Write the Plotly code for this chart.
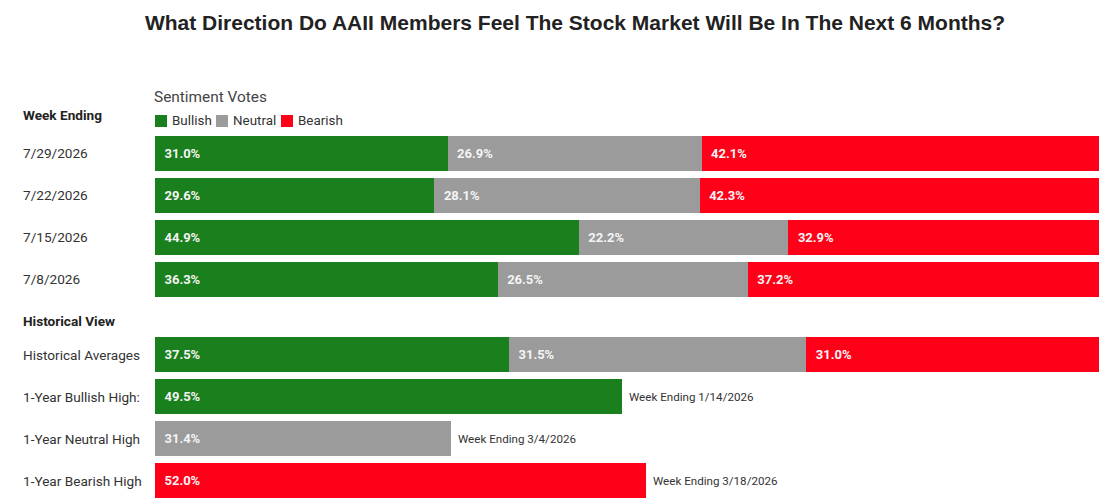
import plotly.graph_objects as go
from plotly.subplots import make_subplots

# weekly sentiment survey (percent of votes)
weeks = ["7/29/2026", "7/22/2026", "7/15/2026", "7/8/2026"]
bullish = [31.0, 29.6, 44.9, 36.3]
neutral = [26.9, 28.1, 22.2, 26.5]
bearish = [42.1, 42.3, 32.9, 37.2]

# historical view
hist_rows = ["Historical Averages", "1-Year Bullish High:", "1-Year Neutral High", "1-Year Bearish High"]
hist_bullish = [37.5, 49.5, None, None]
hist_neutral = [31.5, None, 31.4, None]
hist_bearish = [31.0, None, None, 52.0]
high_weeks = [None, "1/14/2026", "3/4/2026", "3/18/2026"]

series = ["Bullish", "Neutral", "Bearish"]
colors = {"Bullish": "#1a7f1d", "Neutral": "#9b9b9b", "Bearish": "#ff0019"}

# the page body has an 8px margin, so the figure is sized to end at the window edge
OFF = 8
W, H = 1119 - OFF, 504 - OFF
FONT = "Roboto"


def px_x(p):
    return (p - OFF) / W


def px_y(p):
    return 1 - (p - OFF) / H


fig = make_subplots(rows=2, cols=1)

top = dict(zip(series, [bullish, neutral, bearish]))
bottom = dict(zip(series, [hist_bullish, hist_neutral, hist_bearish]))

for name in series:
    for row, cats, vals in [(1, weeks, top[name]), (2, hist_rows, bottom[name])]:
        fig.add_trace(
            go.Bar(
                y=cats, x=vals, orientation="h", name=name,
                marker=dict(color=colors[name], line=dict(width=0)),
                texttemplate="\u00a0\u00a0%{x:.1f}%",
                textposition="inside", insidetextanchor="start",
                textfont=dict(family=FONT, size=13, color="#f4f4f4", weight=700),
                constraintext="none",
                showlegend=False,
                hovertemplate=name + ": %{x:.1f}%<extra>%{y}</extra>",
            ),
            row=row, col=1,
        )

annotations = []
LEFT = 21

# row labels, left aligned
for cats, yref in [(weeks, "y"), (hist_rows, "y2")]:
    for c in cats:
        annotations.append(dict(
            text=c, xref="paper", x=px_x(LEFT), xanchor="left",
            yref=yref, y=c, yanchor="middle", showarrow=False,
            font=dict(family=FONT, size=13.6, color="#333333"),
        ))

# "Week Ending ..." notes after the 1-year highs
for c, wk, b, n, r in zip(hist_rows, high_weeks, hist_bullish, hist_neutral, hist_bearish):
    if wk is None:
        continue
    total = sum(v for v in (b, n, r) if v is not None)
    annotations.append(dict(
        text=f"Week Ending {wk}", xref="x2", x=total, xanchor="left", xshift=5,
        yref="y2", y=c, yanchor="middle", showarrow=False,
        font=dict(family=FONT, size=11.6, color="#333333"),
    ))

# section headers
annotations += [
    dict(text="<b>Week Ending</b>", xref="paper", x=px_x(LEFT), xanchor="left",
         yref="paper", y=px_y(115), yanchor="middle", showarrow=False,
         font=dict(family=FONT, size=13.6, color="#222222")),
    dict(text="<b>Historical View</b>", xref="paper", x=px_x(LEFT), xanchor="left",
         yref="paper", y=px_y(321), yanchor="middle", showarrow=False,
         font=dict(family=FONT, size=13.6, color="#222222")),
    dict(text="Sentiment Votes", xref="paper", x=px_x(152), xanchor="left",
         yref="paper", y=px_y(97), yanchor="middle", showarrow=False,
         font=dict(family=FONT, size=15.4, color="#444444")),
]

# hand-made legend
shapes = []
legend_x = [155, 216, 281]
for name, x0 in zip(series, legend_x):
    shapes.append(dict(type="rect", xref="paper", yref="paper",
                       x0=px_x(x0), x1=px_x(x0 + 12), y0=px_y(127), y1=px_y(115),
                       fillcolor=colors[name], line=dict(width=0)))
    annotations.append(dict(text=name, xref="paper", x=px_x(x0 + 15), xanchor="left",
                            yref="paper", y=px_y(121), yanchor="middle", showarrow=False,
                            font=dict(family=FONT, size=13.4, color="#333333")))

fig.update_layout(
    width=W, height=H,
    barmode="stack", bargap=0.17,
    margin=dict(l=0, r=0, t=0, b=0),
    plot_bgcolor="white", paper_bgcolor="white",
    title=dict(
        text="<b>What Direction Do AAII Members Feel The Stock Market Will Be In The Next 6 Months?</b>",
        x=px_x(575), xanchor="center", xref="paper",
        y=px_y(23), yanchor="middle", yref="paper",
        font=dict(family="Liberation Sans", size=21, color="#222222"),
    ),
    annotations=annotations,
    shapes=shapes,
    xaxis=dict(domain=[px_x(155), px_x(1099)], range=[0, 100], visible=False),
    xaxis2=dict(domain=[px_x(155), px_x(1099)], range=[0, 100], visible=False),
    yaxis=dict(domain=[px_y(300.5), px_y(132.4)], autorange="reversed",
               showticklabels=False, showgrid=False, zeroline=False),
    yaxis2=dict(domain=[px_y(501.7), px_y(333.5)], autorange="reversed",
                showticklabels=False, showgrid=False, zeroline=False),
)

fig.write_html("out.html")
